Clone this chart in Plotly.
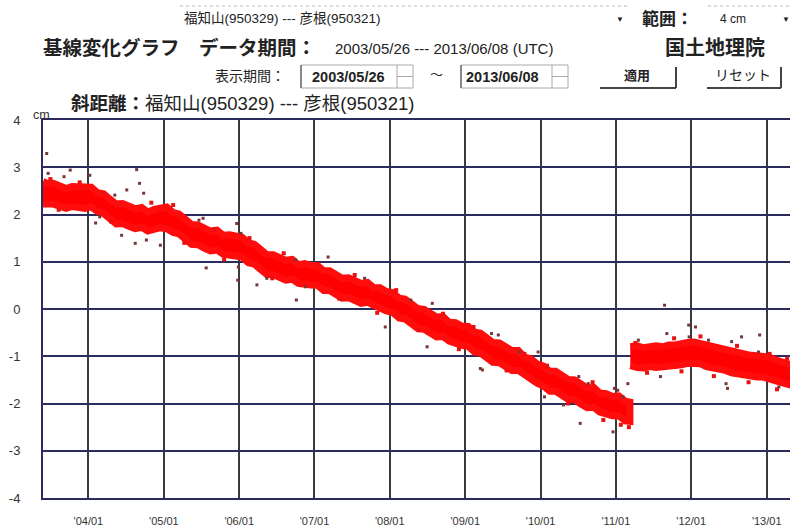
import plotly.graph_objects as go

# ---------------- data ----------------
def months(y0, m0, y1, m1):
    out = []
    y, m = y0, m0
    while (y, m) <= (y1, m1):
        out.append(f"{y}-{m:02d}-15")
        m += 1
        if m > 12:
            m = 1
            y += 1
    return out

pre_dates = ["2003-05-26"] + months(2003, 6, 2011, 2) + ["2011-03-10"]
pre_upper = [2.70, 2.66, 2.66, 2.60, 2.55, 2.59, 2.58, 2.57, 2.58, 2.46, 2.44, 2.32,
             2.22, 2.23, 2.17, 2.12, 2.15, 2.05, 2.11, 2.13, 2.16, 2.04, 2.01, 1.90,
             1.79, 1.78, 1.71, 1.65, 1.67, 1.56, 1.57, 1.53, 1.52, 1.40, 1.37, 1.26,
             1.15, 1.15, 1.09, 1.03, 1.05, 0.94, 0.96, 0.92, 0.92, 0.81, 0.81, 0.73,
             0.65, 0.66, 0.60, 0.54, 0.56, 0.45, 0.45, 0.37, 0.35, 0.23, 0.21, 0.11,
             0.01, -0.01, -0.09, -0.17, -0.16, -0.28, -0.29, -0.36, -0.37, -0.49, -0.51, -0.61,
             -0.71, -0.72, -0.80, -0.88, -0.88, -1.02, -1.05, -1.16, -1.21, -1.32, -1.32, -1.40,
             -1.49, -1.50, -1.59, -1.67, -1.66, -1.78, -1.79, -1.85, -1.84, -1.95, -1.97]
pre_lower = [2.22, 2.22, 2.22, 2.18, 2.13, 2.17, 2.16, 2.13, 2.16, 2.06, 2.02, 1.90,
             1.80, 1.81, 1.75, 1.70, 1.73, 1.65, 1.69, 1.72, 1.70, 1.62, 1.59, 1.48,
             1.37, 1.36, 1.29, 1.23, 1.25, 1.16, 1.15, 1.12, 1.10, 0.98, 0.95, 0.84,
             0.73, 0.73, 0.67, 0.61, 0.63, 0.54, 0.53, 0.51, 0.50, 0.39, 0.39, 0.31,
             0.23, 0.24, 0.18, 0.12, 0.14, 0.05, 0.02, -0.04, -0.07, -0.19, -0.21, -0.31,
             -0.41, -0.43, -0.51, -0.59, -0.58, -0.68, -0.72, -0.77, -0.79, -0.91, -0.93, -1.03,
             -1.13, -1.14, -1.22, -1.30, -1.30, -1.42, -1.48, -1.57, -1.63, -1.74, -1.74, -1.82,
             -1.91, -1.92, -2.01, -2.09, -2.08, -2.18, -2.22, -2.26, -2.26, -2.37, -2.38]

post_dates = ["2011-03-12"] + months(2011, 4, 2013, 5) + ["2013-06-08"]
post_upper = [-0.80, -0.78, -0.82, -0.79, -0.78, -0.80, -0.76, -0.76, -0.72, -0.71,
              -0.70, -0.73, -0.76, -0.82, -0.83, -0.87, -0.90, -0.92, -0.97, -0.98,
              -0.99, -1.01, -1.02, -1.08, -1.13, -1.17, -1.20, -1.22]
post_lower = [-1.20, -1.24, -1.25, -1.22, -1.24, -1.21, -1.22, -1.20, -1.18, -1.15,
              -1.14, -1.16, -1.22, -1.25, -1.28, -1.30, -1.35, -1.37, -1.40, -1.42,
              -1.44, -1.44, -1.46, -1.52, -1.56, -1.61, -1.63, -1.65]

# scattered red points near the band edges
spk_dates = ["2003-07-01", "2003-08-10", "2003-11-20", "2004-03-15", "2004-04-20", "2004-11-01",
             "2005-02-15", "2005-04-10", "2005-09-01", "2005-10-20", "2006-02-20", "2006-06-10",
             "2006-08-05", "2007-01-20", "2007-05-01", "2007-07-15", "2007-11-01", "2008-02-01",
             "2008-05-20", "2008-09-15", "2008-12-01", "2009-02-10", "2009-07-20", "2009-10-15",
             "2010-02-01", "2010-05-15", "2010-09-10", "2010-11-01", "2011-01-25", "2011-03-05",
             "2011-04-05", "2011-06-01", "2011-10-10", "2011-11-15", "2012-02-15", "2012-04-20",
             "2012-08-10", "2012-10-05", "2013-01-15", "2013-02-20", "2013-04-10"]
spk_vals = [2.75, 2.10, 2.68, 2.45, 1.85, 2.25,
            2.20, 1.40, 1.68, 1.05, 1.50, 0.65,
            1.18, 0.95, 0.22, 0.72, -0.08, 0.40,
            -0.45, -0.10, -0.85, -0.38, -1.30, -0.95,
            -1.20, -2.00, -1.55, -2.35, -2.45, -2.50,
            -0.72, -1.35, -0.62, -1.32, -0.58, -1.42,
            -0.78, -1.55, -0.95, -1.70, -1.05]

# isolated dark outliers
out_dates = ["2003-06-13", "2003-06-20", "2003-09-05", "2003-10-05", "2004-01-08", "2004-05-08",
             "2004-02-25", "2004-02-05", "2004-07-05", "2004-08-22", "2004-09-05", "2004-09-25",
             "2004-06-10", "2004-08-15", "2004-10-08", "2004-12-15", "2005-06-20", "2005-07-10",
             "2005-07-25", "2005-12-20", "2006-01-10", "2005-12-28", "2005-12-25", "2006-03-28",
             "2006-05-15", "2006-10-01", "2006-10-05", "2006-11-18", "2007-03-08", "2007-09-01",
             "2007-12-10", "2008-04-12", "2008-07-25", "2008-06-30", "2009-05-08", "2009-06-10",
             "2009-03-15", "2009-03-25", "2009-09-20", "2009-12-20", "2010-01-20", "2010-04-22",
             "2010-07-12", "2010-07-05", "2010-08-20", "2010-12-25", "2010-12-18", "2011-02-05",
             "2011-02-28", "2011-01-10",
             "2011-08-25", "2011-09-05", "2011-12-20", "2011-12-22", "2012-01-22", "2012-03-25",
             "2012-07-15", "2012-09-01", "2012-11-28", "2012-11-22", "2012-06-18", "2012-06-25",
             "2013-03-01", "2011-04-20", "2011-08-05"]
out_vals = [3.29, 2.87, 2.80, 2.94, 2.83, 2.41,
            1.95, 1.82, 2.52, 2.95, 2.66, 2.45,
            1.56, 1.39, 1.46, 1.35, 1.88, 1.92,
            0.87, 1.81, 1.60, 0.89, 0.61, 0.51,
            0.65, 1.04, 0.19, 0.47, 1.10, 0.65,
            -0.38, 0.19, 0.12, -0.80, -0.52, -0.55,
            -1.26, -1.29, -0.91, -0.91, -1.86, -2.03,
            -2.42, -1.43, -1.58, -1.68, -2.60, -1.86,
            -1.58, -1.72,
            0.08, -0.52, -0.34, -0.59, -0.38, -0.66,
            -0.69, -0.59, -0.55, -0.91, -1.58, -1.68,
            -1.65, -0.66, -1.43]

y_ticks = [4, 3, 2, 1, 0, -1, -2, -3, -4]
x_start, x_end = "2003-05-26", "2013-04-24"

# ---------------- geometry ----------------
FW, FH = 790, 529
L, R, T, B = 43, 790, 120, 498
PW, PH = R - L, B - T

def px(x):
    return (x - L) / PW

def py(y):
    return (B - y) / PH

JP = "Liberation Sans, Arial, Noto Sans CJK JP"
NAVY = "#2b2b5e"

fig = go.Figure()

for xs, up, lo in [(pre_dates, pre_upper, pre_lower), (post_dates, post_upper, post_lower)]:
    fig.add_trace(go.Scatter(
        x=xs + xs[::-1], y=up + lo[::-1],
        fill="toself", fillcolor="#ff0000", mode="lines",
        line=dict(color="#ff0d0d", width=7), hoverinfo="skip", showlegend=False))
fig.add_trace(go.Scatter(
    x=spk_dates, y=spk_vals, mode="markers",
    marker=dict(color="#e81010", size=4, symbol="square"),
    hoverinfo="skip", showlegend=False))
fig.add_trace(go.Scatter(
    x=out_dates, y=out_vals, mode="markers",
    marker=dict(color="#7a3535", size=3, symbol="square"),
    hoverinfo="skip", showlegend=False))

fig.update_layout(
    width=FW, height=FH,
    margin=dict(l=L, r=FW - R, t=T, b=FH - B),
    paper_bgcolor="white", plot_bgcolor="white",
    showlegend=False,
    font=dict(family=JP, color="#222"),
    xaxis=dict(
        type="date", range=[x_start, x_end],
        tick0="2004-01-01", dtick="M12", tickformat="'%y/%m",
        showgrid=True, gridcolor="#3a3a3a", gridwidth=1.6,
        ticks="outside", ticklen=12, tickcolor="rgba(0,0,0,0)",
        tickfont=dict(size=11, color="#333"),
        showline=True, linecolor=NAVY, linewidth=2, mirror=True,
        zeroline=False, fixedrange=True),
    yaxis=dict(
        range=[-4, 4], tickvals=y_ticks, ticktext=[str(v) for v in y_ticks],
        showgrid=True, gridcolor=NAVY, gridwidth=1.6,
        ticks="outside", ticklen=18, tickcolor="rgba(0,0,0,0)",
        tickfont=dict(size=13, color="#333"),
        showline=True, linecolor=NAVY, linewidth=2,
        zeroline=False, fixedrange=True),
)

def text(x, y, s, size=12, bold=False, anchor="left", color="#222", family=JP):
    fig.add_annotation(
        xref="paper", yref="paper", x=px(x), y=py(y),
        text=f"<b>{s}</b>" if bold else s, showarrow=False,
        xanchor=anchor, yanchor="middle",
        font=dict(size=size, color=color, family=family))

def line(x0, y0, x1, y1, color="#999", width=1, dash=None):
    fig.add_shape(type="line", xref="paper", yref="paper",
                  x0=px(x0), y0=py(y0), x1=px(x1), y1=py(y1),
                  line=dict(color=color, width=width, dash=dash))

def rect(x0, y0, x1, y1, color="#999", width=1):
    fig.add_shape(type="rect", xref="paper", yref="paper",
                  x0=px(x0), y0=py(y0), x1=px(x1), y1=py(y1),
                  line=dict(color=color, width=width))

# row 1
line(180, 6, 628, 6, color="#bbb", width=1, dash="dot")
line(708, 6, 790, 6, color="#bbb", width=1, dash="dot")
text(182, 18, "福知山(950329) --- 彦根(950321)", size=13.5)
text(620, 19, "▼", size=8, anchor="center")
text(640, 19, "範囲：", size=17, bold=True)
text(718, 19, "4 cm", size=12)
text(786, 19, "▼", size=8, anchor="center")

# row 2
text(41, 48, "基線変化グラフ　データ期間：", size=19.5, bold=True)
text(333, 48, "2003/05/26 --- 2013/06/08 (UTC)", size=15)
text(663, 48, "国土地理院", size=20, bold=True)

# row 3
text(213, 76, "表示期間：", size=14)
rect(301, 65, 413, 88, color="#aaa")
line(301, 65, 301, 88, color="#888", width=2)
line(397, 65, 397, 88, color="#aaa")
line(397, 76.5, 413, 76.5, color="#aaa")
text(310, 77, "2003/05/26", size=14.5, bold=True)
text(436, 74, "～", size=13, anchor="center")
rect(461, 65, 568, 88, color="#aaa")
line(461, 65, 461, 88, color="#888", width=2)
line(552, 65, 552, 88, color="#aaa")
line(552, 76.5, 568, 76.5, color="#aaa")
text(464, 77, "2013/06/08", size=14.5, bold=True)
line(600, 88, 676, 88, color="#444", width=2)
line(676, 67, 676, 88, color="#444", width=2)
text(637, 75, "適用", size=13, bold=True, anchor="center")
line(707, 88, 781, 88, color="#444", width=2)
line(781, 67, 781, 88, color="#444", width=2)
text(743, 75, "リセット", size=14, anchor="center")

# row 4
text(69, 103, "<b>斜距離：</b>福知山(950329) --- 彦根(950321)", size=18.5)
text(31, 115, "cm", size=12.5, color="#333")

fig.write_html("out.html")
